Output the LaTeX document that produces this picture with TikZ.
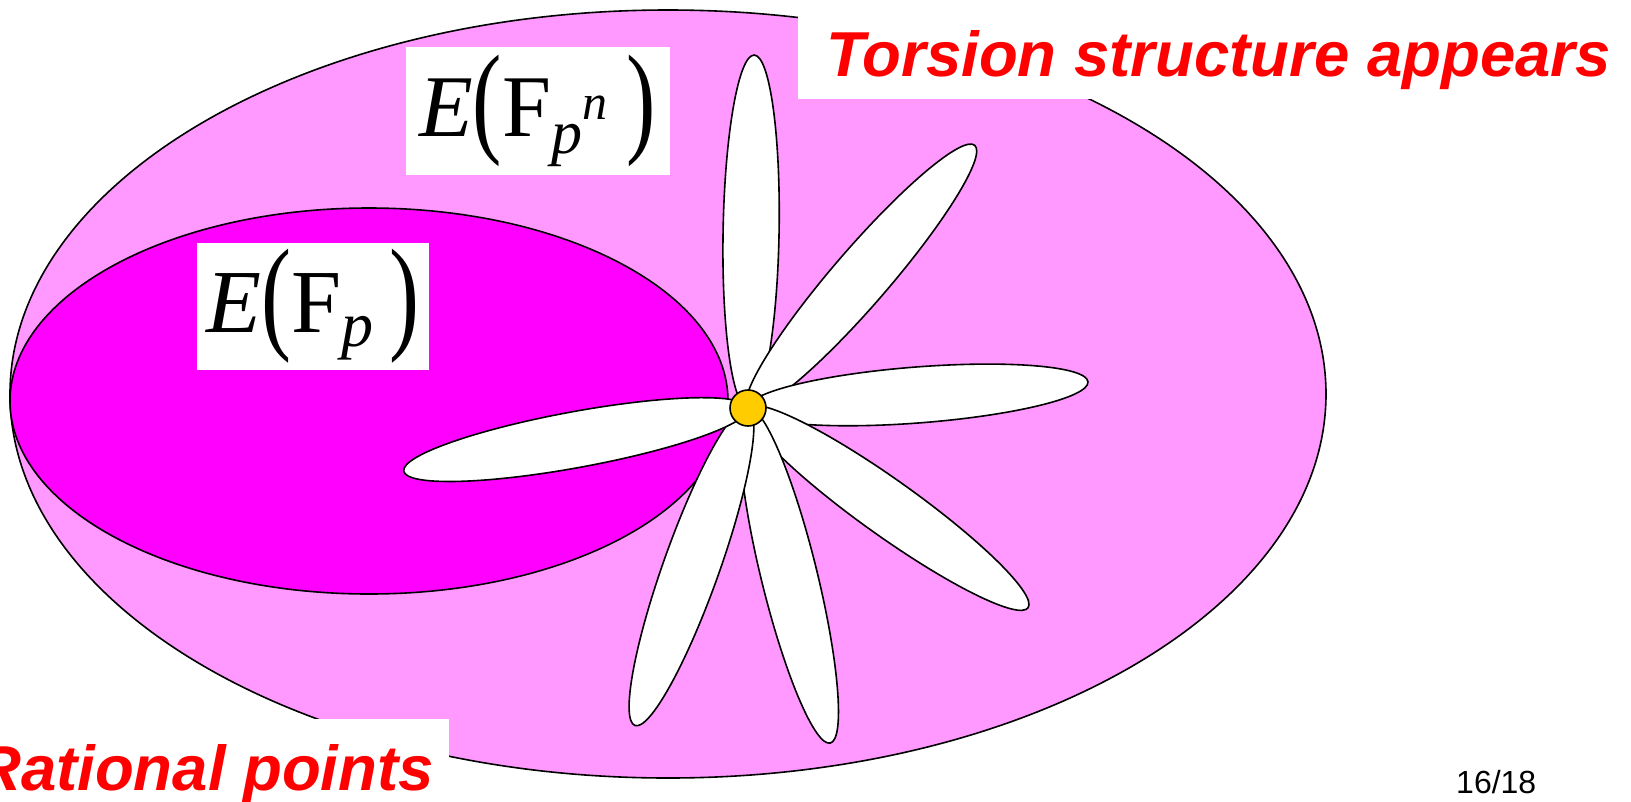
\documentclass[tikz,border=0pt]{standalone}
\usepackage{fontspec}
\usepackage{graphicx}
\setmainfont{Liberation Serif}
\newfontfamily\headfont{Liberation Sans}
\definecolor{outerpink}{HTML}{FF99FF}
\definecolor{innermag}{HTML}{FF00FF}
\definecolor{origin}{HTML}{FFCC00}
\definecolor{alert}{HTML}{FF0000}
\newcommand{\tallpar}[1]{\raisebox{-0.05em}{\scalebox{1}[1.4]{#1}}}

\begin{document}
\begin{tikzpicture}[x=1pt, y=-1pt,
  curve/.style={draw=black, line width=1.6pt},
  petal/.style={draw=black, fill=white, line width=1.6pt},
  whitebox/.style={fill=white, inner sep=0pt},
  headline/.style={text=alert, font=\headfont\bfseries\itshape\fontsize{63.5}{70}\selectfont, inner sep=0pt}]
  \useasboundingbox (0,0) rectangle (1631,801);
  \fill[white] (0,0) rectangle (1631,801);

  % The two point groups.
  \draw[curve, fill=outerpink] (668,394) ellipse (658 and 384);
  \draw[curve, fill=innermag] (369,401) ellipse (359 and 193);

  % Labels of the groups.
  \node[whitebox, minimum width=264, minimum height=128] (fpn) at (537.5,111) {%
    \fontsize{88}{92}\selectfont\textit{E}\tallpar{(}F\raisebox{-0.2em}{\fontsize{62}{62}\selectfont\textit{p}\raisebox{0.55em}{\fontsize{50}{50}\selectfont\textit{n}}}\hspace{0.22em}\tallpar{)}};
  \node[whitebox, minimum width=232, minimum height=127] (fp) at (313,306.5) {%
    \fontsize{90}{94}\selectfont\textit{E}\tallpar{(}F\raisebox{-0.16em}{\fontsize{64}{64}\selectfont\textit{p}}\hspace{0.18em}\tallpar{)}};

  % Torsion petals round the origin.
  \coordinate (c) at (748,408);
  \foreach \ang/\len in {89.0/353, 49.2/347, 4.4/341, -35.5/344, -76.2/345, -109.6/337, -169.6/350}{
    \begin{scope}[shift={(c)}, rotate=\ang]
      \draw[petal] (\len/2,0) ellipse ({\len/2} and 28);
    \end{scope}
  }
  \node[circle, draw=black, fill=origin, line width=1.6pt, minimum size=36pt, inner sep=0pt] (o) at (c) {};

  % Headlines.
  \fill[white] (798,0) rectangle (1631,99);
  \node[headline, anchor=base west] (torsion) at (826,76) {Torsion structure appears};
  \fill[white] (0,719) rectangle (449,801);
  \node[headline, anchor=base west] (rational) at (-25,790) {Rational points};
  \node[font=\headfont\fontsize{32}{36}\selectfont, anchor=base west, inner sep=0pt] (page) at (1456,793) {16/18};
\end{tikzpicture}
\end{document}
